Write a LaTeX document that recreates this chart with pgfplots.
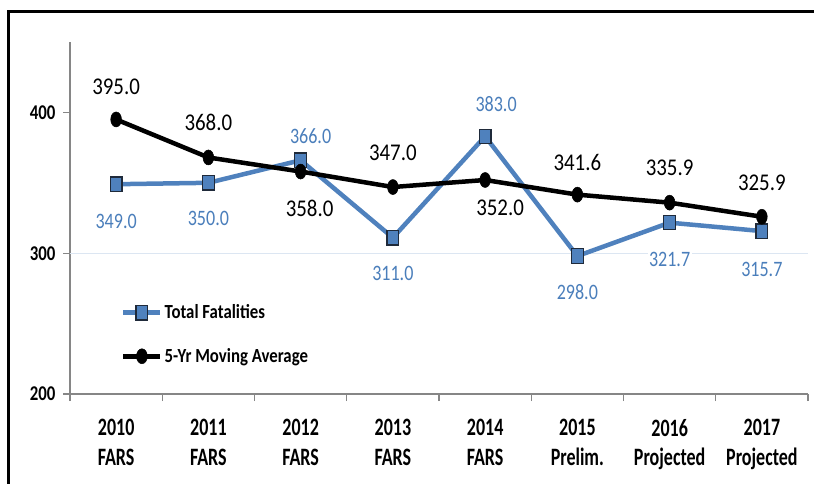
\documentclass[border=0pt]{standalone}
\usepackage{pgfplots}
\usepackage{pgfplotstable}
\pgfplotsset{compat=1.18}
\usepackage{fontspec}
\setmainfont{Carlito}
\newfontfamily\xtfont[FakeStretch=0.72]{Carlito}
\newfontfamily\ytfont[FakeStretch=0.8]{Carlito}
\newfontfamily\blkfont[FakeStretch=0.87]{Carlito}
\newfontfamily\blufont[FakeStretch=0.82]{Carlito}
\newfontfamily\legfont[FakeStretch=0.84]{Carlito}
\definecolor{tfblue}{HTML}{4F81BD}
\definecolor{tflab}{HTML}{4A7EBB}
\definecolor{mkedge}{HTML}{1F2A3A}
\definecolor{axgray}{HTML}{868686}
\definecolor{gridc}{HTML}{DCE6F2}

\pgfplotstableread{
x y lab dx dy
0 349.0 349.0 0 -37
1 350.0 350.0 0 -36
2 366.0 366.0 10 24
3 311.0 311.0 0 -36
4 383.0 383.0 11 32
5 298.0 298.0 0 -36.5
6 321.7 321.7 0 -36.5
7 315.7 315.7 0 -38
}\tftable

\pgfplotstableread{
x y lab dx dy
0 395.0 395.0 0 33
1 368.0 368.0 0 35
2 358.0 358.0 9 -36.5
3 347.0 347.0 0 34.5
4 352.0 352.0 15 -28
5 341.6 341.6 0 32
6 335.9 335.9 0 35
7 325.9 325.9 0 34
}\matable

\begin{document}
\begin{tikzpicture}
\path[use as bounding box] (0pt,0pt) rectangle (814pt,-483pt);
\draw[line width=3pt] (8pt,-490pt) -- (8pt,-11pt) -- (820pt,-11pt);
\begin{axis}[
  at={(70pt,-394pt)}, anchor=south west,
  width=738pt, height=352pt, scale only axis,
  clip=false,
  xmin=-0.5, xmax=7.5, ymin=200, ymax=450,
  axis x line=bottom, axis y line=left,
  axis line style={-, draw=axgray, line width=1.3pt},
  tick align=outside,
  tick style={draw=axgray, line width=1.3pt},
  major tick length=7pt,
  xtick={-0.5,0.5,...,7.5},
  x tick label as interval,
  xticklabels={{2010\\FARS},{2011\\FARS},{2012\\FARS},{2013\\FARS},{2014\\FARS},{2015\\Prelim.},{2016\\Projected},{2017\\Projected},{}},
  xticklabel style={font=\xtfont\bfseries\fontsize{25}{29.3}\selectfont, align=center, text=black, yshift=-15pt},
  ytick={200,300,400},
  yticklabel style={font=\ytfont\bfseries\fontsize{21}{24}\selectfont, text=black, xshift=-4pt},
  /pgf/number format/assume math mode=true,
  extra y ticks={300},
  extra y tick labels={},
  extra y tick style={grid=major, major grid style={draw=gridc, line width=1.2pt}, major tick length=0pt},
  legend image code/.code={\draw[mark repeat=2,mark phase=2,#1] plot coordinates {(0pt,0pt) (18.5pt,0pt) (37pt,0pt)};},
  legend style={at={(0.065,0.265)}, anchor=north west, draw=none, fill=none,
    font=\legfont\bfseries\fontsize{20}{23}\selectfont, row sep=24pt},
  legend cell align=left,
]
\addplot[tfblue, line width=4.5pt, mark=square*, mark size=7.2pt,
  mark options={solid, xscale=0.82, fill=tfblue, draw=mkedge, line width=1.2pt},
  point meta=explicit symbolic,
  visualization depends on={\thisrow{dx} \as \dx},
  visualization depends on={\thisrow{dy} \as \dy},
  nodes near coords,
  nodes near coords style={anchor=center, xshift=\dx pt, yshift=\dy pt,
    font=\blufont\fontsize{22}{26}\selectfont, text=tflab, fill=white, inner sep=1.5pt}]
  table[x=x, y=y, meta=lab]{\tftable};
\addlegendentry{Total Fatalities}
\addplot[black, line width=4.5pt, mark=*, mark size=7.5pt,
  mark options={solid, xscale=0.72, fill=black, draw=black, line width=0.5pt},
  point meta=explicit symbolic,
  visualization depends on={\thisrow{dx} \as \dx},
  visualization depends on={\thisrow{dy} \as \dy},
  nodes near coords,
  nodes near coords style={anchor=center, xshift=\dx pt, yshift=\dy pt,
    font=\blkfont\fontsize{24}{28}\selectfont, text=black, fill=white, inner sep=1.5pt}]
  table[x=x, y=y, meta=lab]{\matable};
\addlegendentry{5-Yr Moving Average}
\end{axis}
\end{tikzpicture}
\end{document}
